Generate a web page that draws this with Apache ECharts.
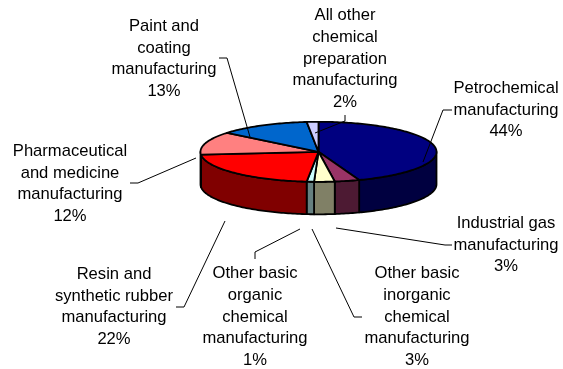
<!DOCTYPE html>
<html>
<head>
<meta charset="utf-8">
<style>
  html, body { margin: 0; padding: 0; background: #fff; }
  #chart { width: 563px; height: 369px; }
</style>
<script src="https://cdn.jsdelivr.net/npm/echarts@6/dist/echarts.min.js"></script>
</head>
<body>
<div id="chart"></div>
<script>
// clockwise from 12 o'clock
const categories = [
  "Petrochemical\nmanufacturing",
  "Industrial gas\nmanufacturing",
  "Other basic\ninorganic\nchemical\nmanufacturing",
  "Other basic\norganic\nchemical\nmanufacturing",
  "Resin and\nsynthetic rubber\nmanufacturing",
  "Pharmaceutical\nand medicine\nmanufacturing",
  "Paint and\ncoating\nmanufacturing",
  "All other\nchemical\npreparation\nmanufacturing",
];
// labels show them rounded
const shares = [44.4, 3.4, 2.8, 1.0, 21.9, 12.4, 12.5, 1.6];

const topColors = ["#000080", "#993366", "#FFFFCC", "#CCFFFF", "#FF0000", "#FF8080", "#0066CC", "#CCCCFF"];
const sideColors = ["#000040", "#4D1A33", "#808066", "#668080", "#800000", "#804040", "#003366", "#666680"];

// label centre and leader line, in page pixels
const labelPos = [[506, 110], [506, 245], [417, 317], [255, 317], [114, 307], [70, 184], [164, 59], [345, 59]];
const leaders = [
  [[452, 110], [443, 110], [423, 162]],
  [[452, 245], [445, 245], [336, 228]],
  [[362, 317], [354, 317], [312, 229]],
  [[255, 259], [255, 252], [300, 229]],
  [[176, 307], [184, 307], [225, 221]],
  [[130, 183], [138, 183], [196, 158]],
  [[219, 58], [227, 58], [250, 137]],
  [[345, 115], [345, 121], [315, 133]],
];

const cx = 318.5, cy = 151.8, rx = 118, ry = 30, depth = 32.5;
const total = shares.reduce((a, b) => a + b, 0);

function edge(angle, drop) {
  return [cx + rx * Math.sin(angle), cy - ry * Math.cos(angle) + (drop || 0)];
}

function arc(from, to, drop) {
  let pts = [];
  let steps = Math.max(2, Math.ceil((to - from) / 0.02));
  for (let i = 0; i <= steps; i++) {
    pts.push(edge(from + ((to - from) * i) / steps, drop));
  }
  return pts;
}

function renderSlice(params, api) {
  let i = params.dataIndex;
  let before = shares.slice(0, i).reduce((a, b) => a + b, 0);
  let from = (before / total) * 2 * Math.PI;
  let to = ((before + api.value(0)) / total) * 2 * Math.PI;
  let lineStyle = { stroke: "#000", lineWidth: 1.8, lineJoin: "round" };
  let children = [];

  // only the front half of the rim shows
  let wallFrom = Math.max(from, Math.PI / 2);
  let wallTo = Math.min(to, (3 * Math.PI) / 2);
  if (wallTo > wallFrom) {
    children.push({
      type: "polygon",
      shape: { points: arc(wallFrom, wallTo, 0).concat(arc(wallFrom, wallTo, depth).reverse()) },
      style: { fill: sideColors[i], ...lineStyle },
    });
  }
  children.push({
    type: "polygon",
    shape: { points: [[cx, cy]].concat(arc(from, to, 0)) },
    style: { fill: topColors[i], ...lineStyle },
  });
  return { type: "group", children: children };
}

function renderLabel(params, api) {
  let i = params.dataIndex;
  return {
    type: "group",
    children: [
      {
        type: "polyline",
        shape: { points: leaders[i] },
        style: { stroke: "#000", lineWidth: 1, fill: null },
      },
      {
        type: "text",
        style: {
          text: categories[i] + "\n" + Math.round(api.value(0)) + "%",
          x: labelPos[i][0],
          y: labelPos[i][1],
          align: "center",
          verticalAlign: "middle",
          fill: "#000",
          font: '16.6px "Liberation Sans", Arial, sans-serif',
          lineHeight: 21.8,
        },
      },
    ],
  };
}

let myChart = echarts.init(document.getElementById("chart"));
myChart.setOption({
  animation: false,
  series: [
    {
      type: "custom",
      coordinateSystem: "none",
      silent: true,
      z: 2,
      renderItem: renderSlice,
      data: shares.map((v) => [v]),
    },
    {
      type: "custom",
      coordinateSystem: "none",
      silent: true,
      z: 3,
      renderItem: renderLabel,
      data: shares.map((v) => [v]),
    },
  ],
});
</script>
</body>
</html>
